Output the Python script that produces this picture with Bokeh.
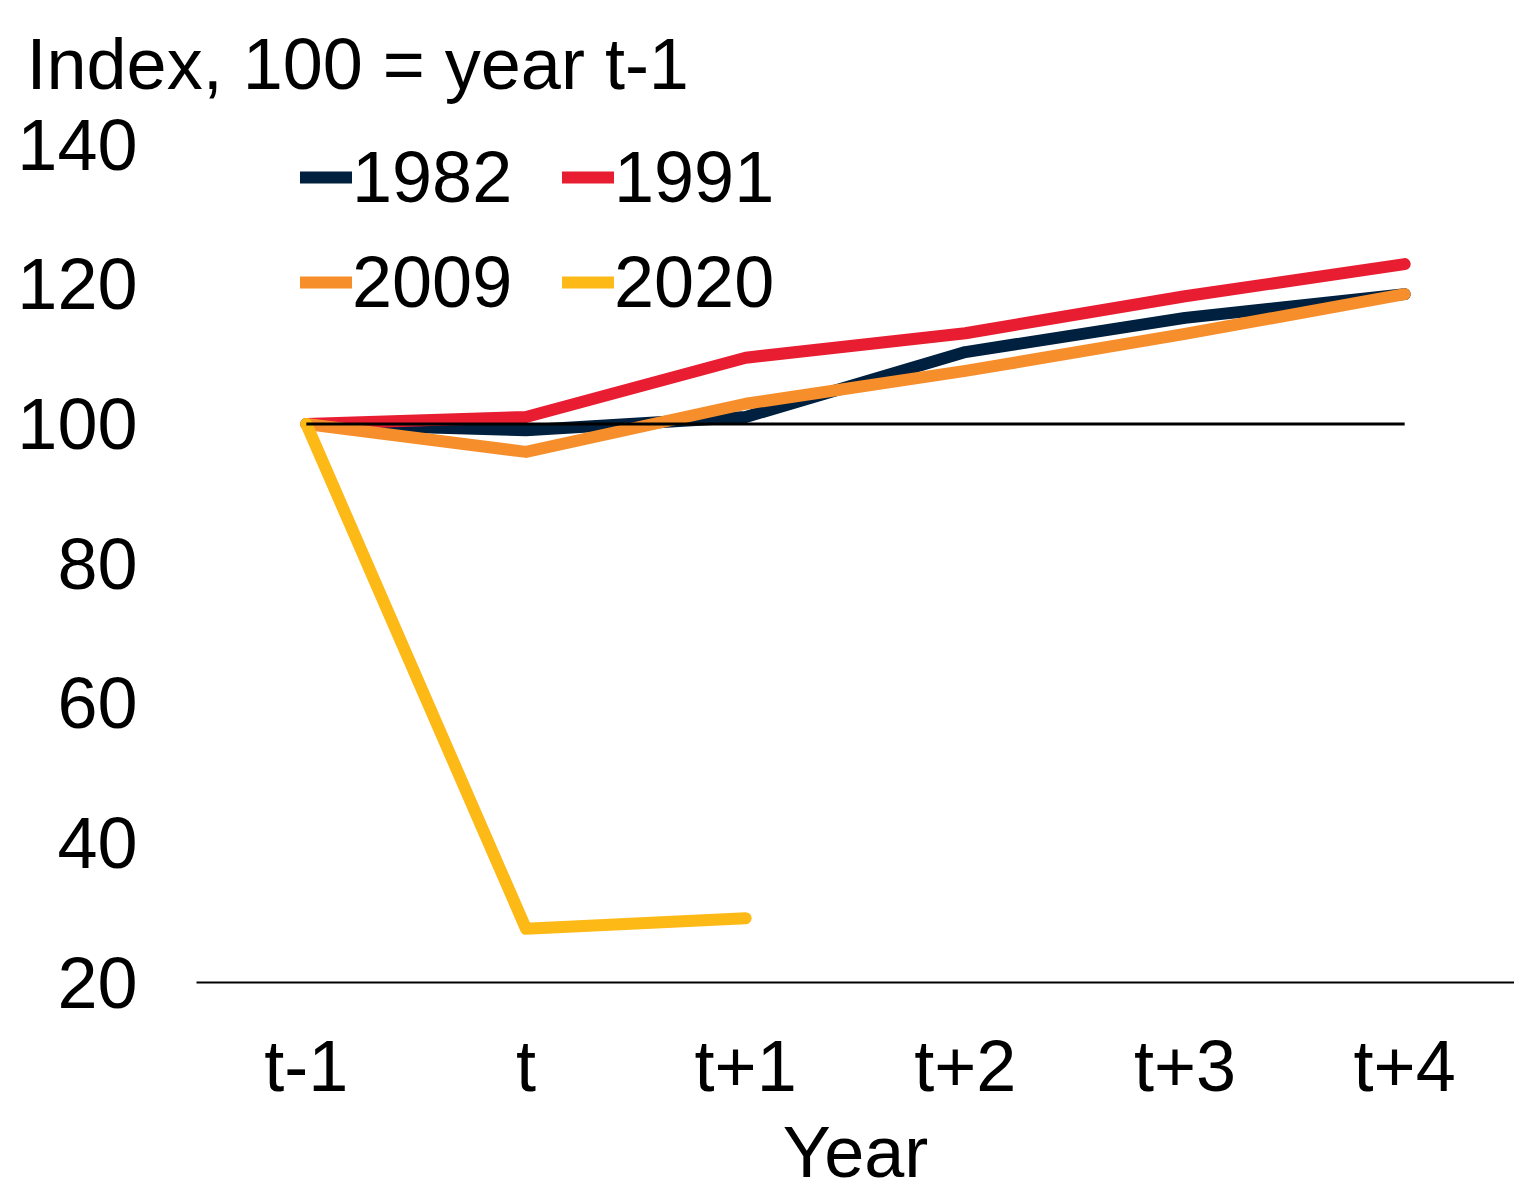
from bokeh.plotting import figure
from bokeh.models import FactorRange, Range1d, Legend, LegendItem, Title
from bokeh.embed import file_html
from bokeh.resources import INLINE

# ---- data ----
years = ["t-1", "t", "t+1", "t+2", "t+3", "t+4"]
s1982 = [100, 99.1, 101.0, 110.3, 115.2, 118.6]
s1991 = [100, 101.0, 109.5, 113.0, 118.3, 122.9]
s2009 = [100, 96.0, 102.9, 107.6, 112.9, 118.6]
s2020 = [100, 27.7, 29.2]
base_value = 100
series_names = ["1982", "1991", "2009", "2020"]
y_ticks = [20, 40, 60, 80, 100, 120, 140]

colors = ["#00203F", "#E81D31", "#F68E2B", "#FDB915"]
FONT = "Liberation Sans"
FS = "72px"

p = figure(width=1514, height=1194, x_range=FactorRange(*years, range_padding=0),
           y_range=Range1d(20, 142.9), output_backend="svg", toolbar_location=None,
           min_border_left=196, min_border_right=0, min_border_top=124,
           min_border_bottom=0)
p.outline_line_color = None
p.xgrid.grid_line_color = None
p.ygrid.grid_line_color = None
p.background_fill_color = "white"
p.border_fill_color = "white"

renderers = []
for name, xs, ys, c in [("1982", years, s1982, colors[0]),
                        ("1991", years, s1991, colors[1]),
                        ("2009", years, s2009, colors[2]),
                        ("2020", years[:len(s2020)], s2020, colors[3])]:
    r = p.line(xs, ys, line_color=c, line_width=12, line_cap="round", line_join="round")
    renderers.append((name, r))

p.segment(x0=[years[0]], y0=[base_value], x1=[years[-1]], y1=[base_value],
          line_color="black", line_width=3)

# axes
p.yaxis.ticker = y_ticks
p.yaxis.axis_line_color = None
p.yaxis.major_tick_line_color = None
p.yaxis.minor_tick_line_color = None
p.yaxis.major_tick_in = 0
p.yaxis.major_tick_out = 0
p.yaxis.major_label_standoff = 59
p.yaxis.major_label_text_font = FONT
p.yaxis.major_label_text_font_size = FS
p.yaxis.major_label_text_color = "black"

p.xaxis.axis_line_color = "black"
p.xaxis.axis_line_width = 2
p.xaxis.major_tick_line_color = None
p.xaxis.minor_tick_line_color = None
p.xaxis.major_tick_in = 0
p.xaxis.major_tick_out = 0
p.xaxis.major_label_standoff = 43
p.xaxis.major_label_text_font = FONT
p.xaxis.major_label_text_font_size = FS
p.xaxis.major_label_text_color = "black"
p.xaxis.axis_label = "Year"
p.xaxis.axis_label_standoff = 3
p.xaxis.axis_label_text_font = FONT
p.xaxis.axis_label_text_font_size = FS
p.xaxis.axis_label_text_font_style = "normal"
p.xaxis.axis_label_text_color = "black"

title = Title(text="Index, 100 = year t-1", align="left", offset=-170, standoff=41,
              text_font=FONT, text_font_size=FS, text_font_style="normal",
              text_color="black")
p.add_layout(title, "above")

legend = Legend(items=[LegendItem(label=n, renderers=[r]) for n, r in renderers],
                location=(104, 659), orientation="horizontal", ncols=2,
                glyph_width=52, glyph_height=20, label_standoff=0, spacing=23,
                label_width=187,
                padding=0, margin=0, border_line_color=None,
                background_fill_alpha=0, label_text_font=FONT,
                label_text_font_size=FS, label_text_color="black")
p.add_layout(legend)

open("out.html", "w").write(file_html(p, INLINE))
